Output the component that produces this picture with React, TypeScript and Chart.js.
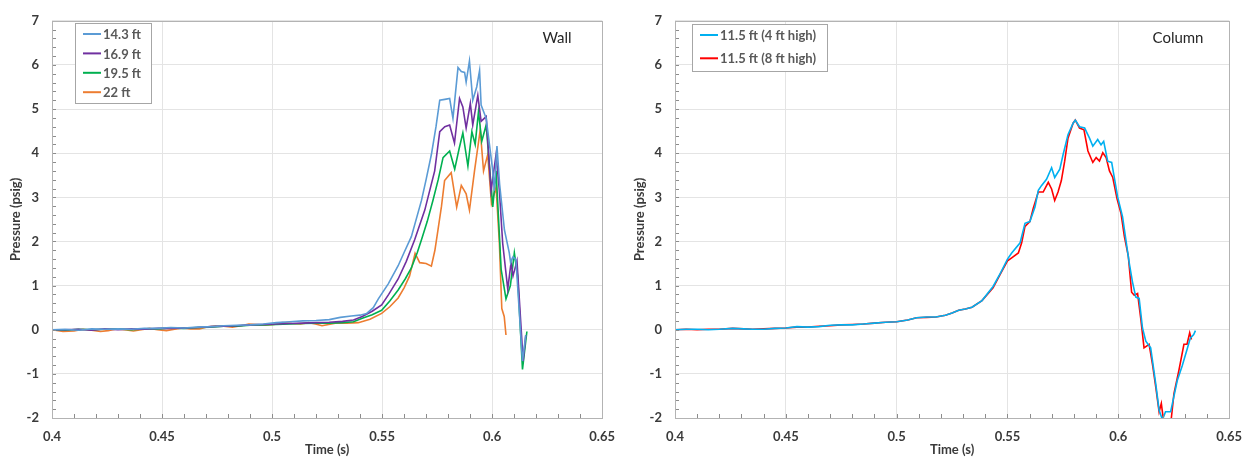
import React, { useEffect, useRef } from "react";
import { Chart, registerables } from "chart.js";

Chart.register(...registerables);

const FONT = "Lato, 'Open Sans', sans-serif";
const TEXT = "#595959";
const TICK_TEXT = "#3a3a3a";

// ---- Wall gauges: time (s) and pressure (psig) ----
const wallTime143 = [0.400,0.406,0.412,0.418,0.424,0.430,0.436,0.442,0.448,0.454,0.460,0.466,0.472,0.478,0.484,0.490,0.496,0.502,0.508,0.514,0.520,0.526,0.531,0.536,0.540,0.543,0.546,0.5483,0.5528,0.5573,0.5600,0.5633,0.5679,0.5700,0.5724,0.5745,0.5762,0.5785,0.5807,0.5822,0.5845,0.5860,0.5875,0.5882,0.5897,0.5912,0.5930,0.5943,0.5950,0.5973,0.6003,0.6010,0.6022,0.6034,0.6056,0.6078,0.6084,0.6095,0.6108,0.6138,0.6153];
const wallP143 = [0.00,0.01,-0.01,0.02,0.01,0.02,0.01,0.03,0.03,0.05,0.04,0.06,0.07,0.09,0.10,0.11,0.13,0.16,0.18,0.20,0.21,0.23,0.28,0.31,0.33,0.37,0.50,0.70,1.04,1.45,1.75,2.11,2.93,3.40,3.97,4.60,5.20,5.22,5.24,4.79,5.94,5.85,5.83,5.61,6.09,5.20,5.50,5.87,5.09,4.79,3.60,3.15,4.16,3.30,2.26,1.74,1.52,1.65,1.59,-0.71,-0.12];

const wallTime169 = [0.400,0.406,0.412,0.418,0.424,0.430,0.436,0.442,0.448,0.454,0.460,0.466,0.472,0.478,0.484,0.490,0.496,0.502,0.508,0.514,0.520,0.526,0.532,0.537,0.541,0.5455,0.5498,0.5530,0.5573,0.5610,0.5648,0.5694,0.5739,0.5762,0.5785,0.5807,0.5829,0.5852,0.5867,0.5882,0.5901,0.5912,0.5935,0.5950,0.5973,0.5995,0.6018,0.6033,0.6048,0.6071,0.6086,0.6095,0.6113,0.6141,0.6153];
const wallP169 = [0.00,0.00,0.01,-0.01,0.02,0.00,0.02,0.01,0.03,0.03,0.04,0.05,0.07,0.08,0.09,0.11,0.12,0.13,0.14,0.15,0.16,0.17,0.19,0.22,0.30,0.42,0.56,0.80,1.15,1.55,2.04,2.71,3.60,4.49,4.60,4.64,4.23,5.24,5.05,4.57,5.13,4.64,5.31,4.72,4.83,3.15,3.97,3.15,1.96,0.92,1.52,1.22,1.56,-0.71,-0.12];

const wallTime195 = [0.400,0.406,0.412,0.418,0.424,0.430,0.436,0.442,0.448,0.454,0.460,0.466,0.472,0.478,0.484,0.490,0.496,0.502,0.508,0.514,0.520,0.526,0.532,0.537,0.541,0.5455,0.5498,0.5535,0.5573,0.5605,0.5633,0.5660,0.5679,0.5705,0.5731,0.5755,0.5777,0.5807,0.5830,0.5850,0.5867,0.5890,0.5908,0.5923,0.5938,0.5953,0.5973,0.6003,0.6018,0.6041,0.6063,0.6083,0.6101,0.6116,0.6138,0.6158];
const wallP195 = [0.00,-0.01,0.01,0.00,0.01,0.02,0.00,0.02,0.02,0.04,0.03,0.05,0.06,0.08,0.08,0.10,0.11,0.12,0.13,0.14,0.15,0.15,0.16,0.18,0.26,0.34,0.44,0.65,0.90,1.15,1.40,1.75,2.04,2.45,2.93,3.40,3.90,4.05,3.64,4.10,4.46,3.71,4.49,4.20,4.94,4.27,4.64,2.78,3.60,1.37,0.70,1.00,1.74,1.22,-0.90,-0.04];

const wallTime22 = [0.400,0.405,0.410,0.4142,0.418,0.422,0.4255,0.4292,0.433,0.437,0.4405,0.4443,0.448,0.452,0.4557,0.4594,0.463,0.467,0.4705,0.4744,0.478,0.482,0.4858,0.4895,0.493,0.497,0.5008,0.5046,0.509,0.513,0.5167,0.5197,0.5227,0.5257,0.5287,0.534,0.5392,0.5445,0.5498,0.5535,0.5573,0.5600,0.5625,0.5650,0.5671,0.5700,0.5724,0.5740,0.5754,0.5770,0.5784,0.5814,0.5839,0.5860,0.5882,0.5897,0.5920,0.5946,0.5961,0.5980,0.5997,0.6018,0.6033,0.6044,0.6055,0.6063];
const wallP22 = [0.00,-0.04,-0.03,0.01,-0.01,-0.04,-0.02,0.02,0.00,-0.03,0.00,0.03,0.00,-0.02,0.01,0.04,0.02,0.02,0.06,0.09,0.08,0.06,0.09,0.13,0.12,0.10,0.12,0.16,0.14,0.13,0.16,0.13,0.09,0.12,0.15,0.15,0.16,0.24,0.37,0.52,0.72,0.95,1.22,1.73,1.52,1.50,1.44,1.80,2.26,2.80,3.38,3.56,2.78,3.27,3.08,2.71,3.60,4.53,3.60,3.97,2.86,3.23,1.96,0.48,0.30,-0.12];

// ---- Column gauges ----
const colTime4 = [0.400,0.405,0.410,0.415,0.420,0.426,0.431,0.435,0.440,0.445,0.450,0.455,0.460,0.465,0.470,0.475,0.480,0.485,0.490,0.495,0.500,0.505,0.509,0.5135,0.5177,0.522,0.525,0.528,0.531,0.534,0.5385,0.5435,0.547,0.550,0.5519,0.5557,0.5579,0.5601,0.5624,0.5639,0.5654,0.5676,0.5699,0.5713,0.5736,0.5751,0.5773,0.5796,0.5806,0.5825,0.5848,0.5870,0.5885,0.5907,0.5922,0.5934,0.5952,0.5970,0.5997,0.6019,0.6034,0.6049,0.6064,0.6079,0.6094,0.6109,0.6124,0.6146,0.6169,0.6184,0.6199,0.6213,0.6236,0.6266,0.6288,0.6310,0.6325,0.6340,0.6348];
const colP4 = [0.00,0.01,0.01,0.00,0.01,0.03,0.02,0.01,0.01,0.03,0.04,0.07,0.06,0.07,0.10,0.11,0.11,0.13,0.15,0.17,0.18,0.22,0.27,0.29,0.29,0.33,0.38,0.44,0.47,0.51,0.66,0.98,1.30,1.60,1.74,1.97,2.41,2.45,2.78,3.16,3.27,3.41,3.67,3.45,3.64,3.97,4.42,4.68,4.75,4.60,4.57,4.34,4.16,4.31,4.19,4.27,3.82,3.79,3.01,2.56,2.04,1.52,1.08,0.74,0.71,0.04,-0.26,-0.41,-1.23,-1.82,-2.04,-1.86,-1.86,-1.15,-0.82,-0.45,-0.19,-0.11,-0.02];

const colTime8 = [0.400,0.405,0.410,0.415,0.420,0.426,0.431,0.435,0.440,0.445,0.450,0.455,0.460,0.465,0.470,0.475,0.480,0.485,0.490,0.495,0.500,0.505,0.509,0.5135,0.5177,0.522,0.525,0.528,0.531,0.534,0.5385,0.5435,0.547,0.550,0.5519,0.5549,0.5564,0.5579,0.5601,0.5616,0.5639,0.5661,0.5684,0.5699,0.5713,0.5728,0.5743,0.5758,0.5773,0.5796,0.5806,0.5825,0.5845,0.5863,0.5885,0.5900,0.5915,0.5930,0.5945,0.5960,0.5975,0.5994,0.6012,0.6027,0.6045,0.6060,0.6072,0.6087,0.6101,0.6116,0.6139,0.6154,0.6169,0.6184,0.6194,0.6205,0.6215,0.6236,0.6251,0.6273,0.6296,0.6310,0.6322,0.6330];
const colP8 = [0.00,0.01,0.00,0.01,0.01,0.03,0.02,0.01,0.02,0.03,0.04,0.06,0.06,0.08,0.09,0.11,0.12,0.13,0.15,0.17,0.18,0.22,0.27,0.28,0.29,0.33,0.38,0.44,0.47,0.51,0.66,0.95,1.28,1.56,1.63,1.74,1.97,2.34,2.45,2.75,3.12,3.12,3.34,3.19,2.93,3.12,3.38,3.82,4.34,4.68,4.75,4.57,4.53,4.05,3.79,3.90,3.82,4.01,3.90,3.60,3.45,2.97,2.64,2.12,1.67,0.85,0.78,0.82,0.26,-0.41,-0.33,-0.78,-1.30,-1.86,-1.67,-2.10,-2.20,-2.15,-1.45,-0.93,-0.33,-0.33,-0.07,-0.22];

const xTickLabels = ["0.4", "0.45", "0.5", "0.55", "0.6", "0.65"];

function pairs(t: number[], p: number[]) {
  const n = Math.min(t.length, p.length);
  const out: { x: number; y: number }[] = [];
  for (let i = 0; i < n; i++) out.push({ x: t[i], y: p[i] });
  return out;
}

type Series = { label: string; color: string; t: number[]; p: number[] };
type PanelCfg = {
  series: Series[];
  title: string;
  titleX: number;
  titleY: number;
  legendBox: { x: number; y: number; w: number; h: number };
  legendRow: number;
  yAxisWidth: number;
  rightPad: number;
  yTitlePad: number;
  width: number;
};

const wallSeries: Series[] = [
  { label: "14.3 ft", color: "#5B9BD5", t: wallTime143, p: wallP143 },
  { label: "16.9 ft", color: "#7030A0", t: wallTime169, p: wallP169 },
  { label: "19.5 ft", color: "#00B050", t: wallTime195, p: wallP195 },
  { label: "22 ft", color: "#ED7D31", t: wallTime22, p: wallP22 },
];

const columnSeries: Series[] = [
  { label: "11.5 ft (4 ft high)", color: "#00B0F0", t: colTime4, p: colP4 },
  { label: "11.5 ft (8 ft high)", color: "#FF0000", t: colTime8, p: colP8 },
];

// Frame, inward minor ticks, boxed legend and corner caption
const decorPlugin = {
  id: "decor",
  afterDatasetsDraw(chart: any, _args: any, opts: any) {
    const { ctx, chartArea: a, scales } = chart;
    const xs = scales.x;
    const ys = scales.y;
    ctx.save();
    // minor ticks
    ctx.strokeStyle = "#8c8c8c";
    ctx.lineWidth = 1;
    ctx.beginPath();
    for (let i = 0; i <= 45; i++) {
      const v = -2 + i * 0.2;
      const y = Math.round(ys.getPixelForValue(v)) + 0.5;
      ctx.moveTo(a.left, y);
      ctx.lineTo(a.left + 4, y);
    }
    for (let i = 0; i <= 25; i++) {
      const v = 0.4 + i * 0.01;
      const x = Math.round(xs.getPixelForValue(v)) + 0.5;
      ctx.moveTo(x, a.bottom);
      ctx.lineTo(x, a.bottom - 4);
    }
    ctx.stroke();
    // plot frame
    ctx.strokeStyle = "#b3b3b3";
    ctx.strokeRect(Math.round(a.left) + 0.5, Math.round(a.top) + 0.5, Math.round(a.right - a.left), Math.round(a.bottom - a.top));
    // legend
    const b = opts.legendBox;
    ctx.fillStyle = "#ffffff";
    ctx.fillRect(b.x, b.y, b.w, b.h);
    ctx.strokeStyle = "#a6a6a6";
    ctx.strokeRect(b.x + 0.5, b.y + 0.5, b.w, b.h);
    ctx.font = `bold 13px ${FONT}`;
    ctx.textBaseline = "middle";
    ctx.textAlign = "left";
    (opts.series as Series[]).forEach((s, i) => {
      const cy = b.y + 11 + i * opts.legendRow;
      ctx.strokeStyle = s.color;
      ctx.lineWidth = 2;
      ctx.beginPath();
      ctx.moveTo(b.x + 8, cy);
      ctx.lineTo(b.x + 26, cy);
      ctx.stroke();
      ctx.fillStyle = TEXT;
      ctx.fillText(s.label, b.x + 28, cy + 1);
    });
    // caption
    ctx.font = `15px ${FONT}`;
    ctx.fillStyle = "#262626";
    ctx.textAlign = "center";
    ctx.fillText(opts.title, opts.titleX, opts.titleY);
    ctx.restore();
  },
};

function Panel({ cfg }: { cfg: PanelCfg }) {
  const ref = useRef<HTMLCanvasElement | null>(null);
  useEffect(() => {
    if (!ref.current) return;
    const tickFont = { family: FONT, size: 13, weight: "bold" as const };
    const titleFont = { family: FONT, size: 13, weight: "bold" as const };
    const chart = new Chart(ref.current, {
      type: "line",
      data: {
        datasets: cfg.series.map((s) => ({
          label: s.label,
          data: pairs(s.t, s.p),
          borderColor: s.color,
          backgroundColor: s.color,
          borderWidth: 1.6,
          pointRadius: 0,
          tension: 0,
          fill: false,
        })),
      },
      options: {
        animation: false,
        responsive: false,
        devicePixelRatio: 1,
        layout: { padding: { left: 0, right: cfg.rightPad, top: 14, bottom: 0 } },
        plugins: {
          legend: { display: false },
          tooltip: { enabled: false },
          decor: {
            series: cfg.series,
            title: cfg.title,
            titleX: cfg.titleX,
            titleY: cfg.titleY,
            legendBox: cfg.legendBox,
            legendRow: cfg.legendRow,
          },
        } as any,
        scales: {
          x: {
            type: "linear",
            min: 0.4,
            max: 0.65,
            ticks: {
              stepSize: 0.05,
              autoSkip: false,
              maxRotation: 0,
              padding: 11,
              color: TICK_TEXT,
              font: tickFont,
              callback: (v: any) => {
                const r = Math.round(Number(v) * 100) / 100;
                const lbl = xTickLabels.find((s) => Math.abs(parseFloat(s) - r) < 1e-6);
                return lbl ?? "";
              },
            },
            grid: { color: "#e4e4e4", drawTicks: false },
            border: { display: false },
            title: {
              display: true,
              text: "Time (s)",
              color: TICK_TEXT,
              font: titleFont,
              padding: { top: 0, bottom: 1 },
            },
            afterFit: (s: any) => {
              s.height = 41;
            },
          },
          y: {
            type: "linear",
            min: -2,
            max: 7,
            ticks: { stepSize: 1, padding: 13, color: TICK_TEXT, font: tickFont },
            grid: { color: "#e4e4e4", drawTicks: false },
            border: { display: false },
            title: {
              display: true,
              text: "Pressure (psig)",
              color: TICK_TEXT,
              font: titleFont,
              padding: { top: cfg.yTitlePad, bottom: 0 },
            },
            afterFit: (s: any) => {
              s.width = cfg.yAxisWidth;
            },
          },
        },
      },
      plugins: [decorPlugin],
    });
    return () => chart.destroy();
  }, [cfg]);
  return <canvas ref={ref} width={cfg.width} height={459} style={{ width: cfg.width, height: 459, display: "block" }} />;
}

const wallCfg: PanelCfg = {
  series: wallSeries,
  title: "Wall",
  titleX: 557,
  titleY: 38,
  legendBox: { x: 75, y: 23, w: 76, h: 80 },
  legendRow: 19.4,
  yAxisWidth: 52,
  rightPad: 19,
  yTitlePad: 8,
  width: 626,
};

const columnCfg: PanelCfg = {
  series: columnSeries,
  title: "Column",
  titleX: 552,
  titleY: 38,
  legendBox: { x: 66, y: 24, w: 135, h: 47 },
  legendRow: 23.3,
  yAxisWidth: 49,
  rightPad: 23,
  yTitlePad: 6,
  width: 627,
};

export default function App() {
  return (
    <div style={{ position: "absolute", left: 0, top: 0, width: 1253, height: 459, background: "#ffffff" }}>
      <div style={{ position: "absolute", left: 0, top: 0 }}>
        <Panel cfg={wallCfg} />
      </div>
      <div style={{ position: "absolute", left: 626, top: 0 }}>
        <Panel cfg={columnCfg} />
      </div>
    </div>
  );
}
